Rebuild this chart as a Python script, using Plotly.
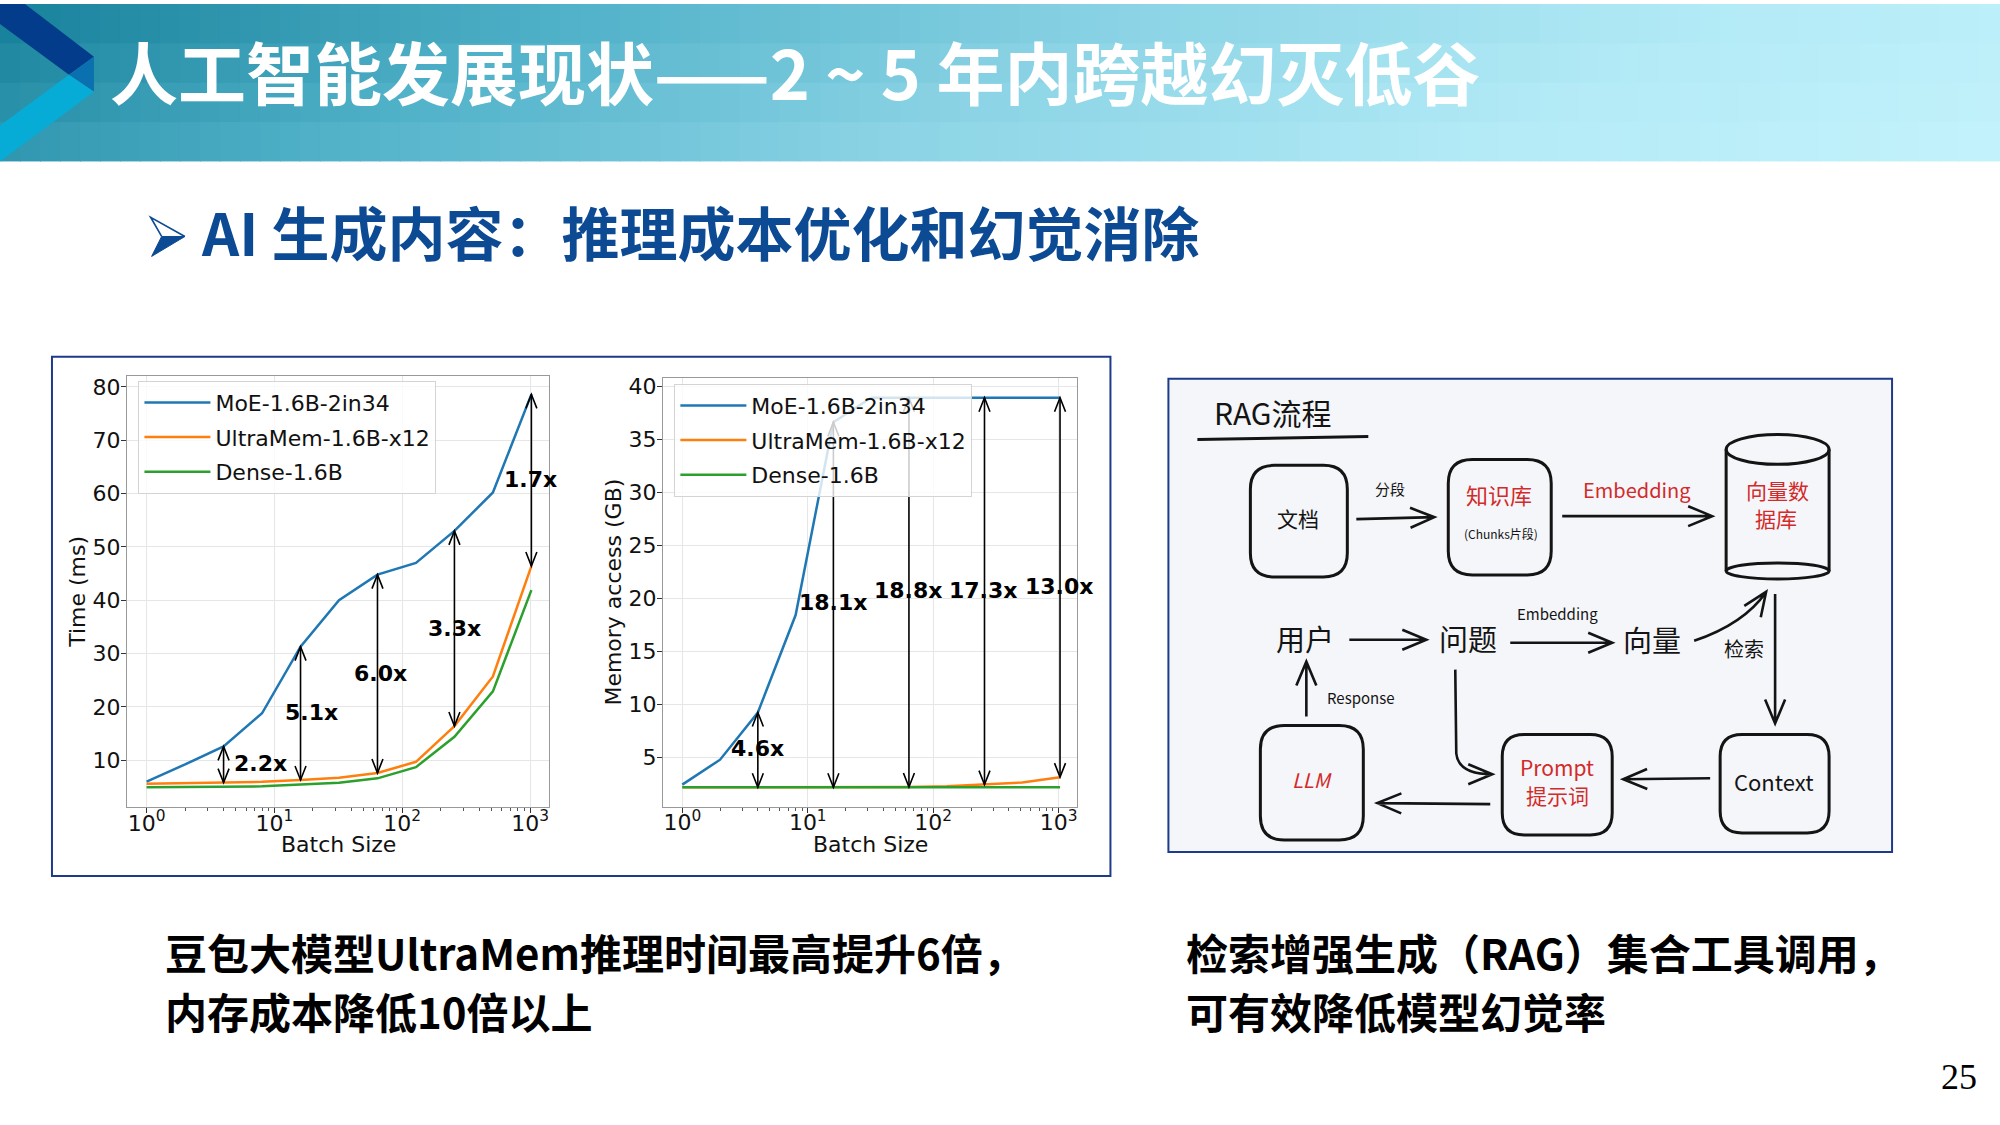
import math
import plotly.graph_objects as go

W, H = 2000, 1125


def X(p):
    return p / W


def Y(p):
    return 1 - p / H


# ------------------------------------------------------------------ data
batch_size = [1, 2, 4, 8, 16, 32, 64, 128, 256, 512, 1024]

time_moe = [6.0, 9.2, 12.6, 18.8, 31.3, 40.0, 44.8, 47.0, 53.0, 60.2, 78.6]
time_ultramem = [5.6, 5.7, 5.8, 5.95, 6.3, 6.7, 7.6, 9.7, 16.4, 25.7, 46.4]
time_dense = [4.95, 5.0, 5.05, 5.1, 5.45, 5.75, 6.6, 8.7, 14.4, 22.9, 41.9]

mem_moe = [2.4, 4.75, 9.2, 18.4, 36.6, 38.9, 38.9, 38.9, 38.9, 38.9, 38.9]
mem_ultramem = [2.15, 2.15, 2.15, 2.15, 2.15, 2.15, 2.17, 2.25, 2.4, 2.6, 3.1]
mem_dense = [2.15, 2.15, 2.15, 2.15, 2.15, 2.15, 2.15, 2.15, 2.15, 2.15, 2.15]

series_names = ["MoE-1.6B-2in34", "UltraMem-1.6B-x12", "Dense-1.6B"]
series_colors = ["#1f77b4", "#ff7f0e", "#2ca02c"]

time_arrow_batch = [4, 16, 64, 256, 1024]
time_arrow_top = [12.6, 31.3, 44.8, 53.0, 78.6]
time_arrow_bottom = [5.8, 6.3, 7.6, 16.4, 46.4]
time_ratio_labels = ["2.2x", "5.1x", "6.0x", "3.3x", "1.7x"]
time_label_x = [7.8, 19.5, 67, 255, 1012]
time_label_y = [9.4, 19.0, 26.3, 34.7, 62.7]

mem_arrow_batch = [4, 16, 64, 256, 1024]
mem_arrow_top = [9.2, 36.6, 38.9, 38.9, 38.9]
mem_arrow_bottom = [2.15, 2.15, 2.17, 2.4, 3.1]
mem_ratio_labels = ["4.6x", "18.1x", "18.8x", "17.3x", "13.0x"]
mem_label_x = [4, 16, 63, 251, 1012]
mem_label_y = [5.8, 19.6, 20.7, 20.7, 21.05]

x_tick_vals = [1, 10, 100, 1000]
x_tick_text = ["10<sup>0</sup>", "10<sup>1</sup>", "10<sup>2</sup>", "10<sup>3</sup>"]
time_ticks = [10, 20, 30, 40, 50, 60, 70, 80]
mem_ticks = [5, 10, 15, 20, 25, 30, 35, 40]

title_text = "人工智能发展现状——2 ~ 5 年内跨越幻灭低谷"
subtitle_text = "AI 生成内容：推理成本优化和幻觉消除"
left_caption = ["豆包大模型UltraMem推理时间最高提升6倍，", "内存成本降低10倍以上"]
right_caption = ["检索增强生成（RAG）集合工具调用，", "可有效降低模型幻觉率"]
page_number = "25"

# ------------------------------------------------------------------ figure
fig = go.Figure()
for name, color, ys in zip(series_names, series_colors, [time_moe, time_ultramem, time_dense]):
    fig.add_trace(go.Scatter(x=batch_size, y=ys, mode="lines", name=name,
                             line=dict(color=color, width=2.5),
                             xaxis="x", yaxis="y", legend="legend",
                             legendgroup="l" + name))
for name, color, ys in zip(series_names, series_colors, [mem_moe, mem_ultramem, mem_dense]):
    fig.add_trace(go.Scatter(x=batch_size, y=ys, mode="lines", name=name,
                             line=dict(color=color, width=2.5),
                             xaxis="x2", yaxis="y2", legend="legend2",
                             legendgroup="r" + name))

CH = "DejaVu Sans"
CJK = "Noto Sans CJK SC"
minor_vals = [m * 10 ** e for e in range(0, 3) for m in range(2, 10)]


def xaxis_cfg(domain, anchor):
    return dict(type="log", domain=domain, anchor=anchor, range=[-0.154, 3.146],
                tickmode="array", tickvals=x_tick_vals, ticktext=x_tick_text,
                ticks="outside", ticklen=5, tickwidth=1.2, tickcolor="#333",
                ticklabelstandoff=-9,
                minor=dict(ticks="outside", ticklen=3, tickwidth=1, tickcolor="#555",
                           tickvals=minor_vals, showgrid=False),
                showline=True, linecolor="#999", linewidth=1.2, mirror=True,
                showgrid=True, gridcolor="#e6e6e6", gridwidth=1, zeroline=False,
                tickfont=dict(family=CH, size=22, color="#111"))


def yaxis_cfg(domain, anchor, rng, ticks):
    return dict(domain=domain, anchor=anchor, range=rng,
                tickmode="array", tickvals=ticks,
                ticks="outside", ticklen=5, tickwidth=1.2, tickcolor="#333",
                ticklabelstandoff=-4,
                showline=True, linecolor="#999", linewidth=1.2, mirror=True,
                showgrid=True, gridcolor="#e6e6e6", gridwidth=1, zeroline=False,
                tickfont=dict(family=CH, size=22, color="#111"))


legend_common = dict(xanchor="left", yanchor="top", bgcolor="rgba(255,255,255,0.8)",
                     bordercolor="#d4d4d4", borderwidth=1,
                     font=dict(family=CH, size=22, color="#111"),
                     traceorder="grouped", tracegroupgap=3, itemwidth=66)

fig.update_layout(
    width=W, height=H, margin=dict(l=0, r=0, t=0, b=0),
    paper_bgcolor="white", plot_bgcolor="white", showlegend=True,
    xaxis=xaxis_cfg([X(127), X(549)], "y"),
    yaxis=yaxis_cfg([Y(806), Y(373)], "x", [1.2, 82.1], time_ticks),
    xaxis2=xaxis_cfg([X(663.3), X(1077.6)], "y2"),
    yaxis2=yaxis_cfg([Y(805.7), Y(375)], "x2", [0.3, 40.8], mem_ticks),
    legend=dict(x=X(138.5), y=Y(378), **legend_common),
    legend2=dict(x=X(674.7), y=Y(381), **legend_common),
)

ann = []
shapes = []

# double-headed arrows (shapes, drawn under the legends) and ratio labels
HL, HW = 14, 5.5
for xr, yr, bs, tops, bots, labs, lx, ly in [
    ("x", "y", time_arrow_batch, time_arrow_top, time_arrow_bottom, time_ratio_labels, time_label_x, time_label_y),
    ("x2", "y2", mem_arrow_batch, mem_arrow_top, mem_arrow_bottom, mem_ratio_labels, mem_label_x, mem_label_y),
]:
    for b, t, bo in zip(bs, tops, bots):
        shapes.append(dict(type="line", xref=xr, yref=yr, x0=b, x1=b, y0=bo, y1=t,
                           line=dict(color="black", width=1.6)))
        shapes.append(dict(type="path", xref=xr, yref=yr, xsizemode="pixel", ysizemode="pixel",
                           xanchor=b, yanchor=t,
                           path="M%f,%f L0,0 L%f,%f" % (-HW, -HL, HW, -HL),
                           line=dict(color="black", width=1.6)))
        shapes.append(dict(type="path", xref=xr, yref=yr, xsizemode="pixel", ysizemode="pixel",
                           xanchor=b, yanchor=bo,
                           path="M%f,%f L0,0 L%f,%f" % (-HW, HL, HW, HL),
                           line=dict(color="black", width=1.6)))
    for t, x, y in zip(labs, lx, ly):
        ann.append(dict(x=math.log10(x), y=y, xref=xr, yref=yr, text="<b>" + t + "</b>",
                        showarrow=False, xanchor="center", yanchor="middle",
                        font=dict(family=CH, size=22, color="black")))

# axis titles
axis_titles = [
    (78, 590, "Time (ms)", -90), (614, 590, "Memory access (GB)", -90),
    (338.5, 844, "Batch Size", 0), (871, 844, "Batch Size", 0),
]
for x, y, t, ang in axis_titles:
    ann.append(dict(x=X(x), y=Y(y), xref="paper", yref="paper", text=t, textangle=ang,
                    showarrow=False, xanchor="center", yanchor="middle",
                    font=dict(family=CH, size=22, color="#111")))

# ------------------------------------------------------------------ header banner
stops = [(0.0, (20, 126, 152)), (0.25, (78, 176, 199)), (0.5, (138, 211, 229)),
         (0.75, (178, 234, 246)), (1.0, (196, 243, 252))]


def grad(t):
    t = max(0.0, min(1.0, t))
    for (t0, c0), (t1, c1) in zip(stops[:-1], stops[1:]):
        if t <= t1:
            f = (t - t0) / (t1 - t0)
            return "rgb(%d,%d,%d)" % tuple(round(a + (b - a) * f) for a, b in zip(c0, c1))
    return "rgb(%d,%d,%d)" % stops[-1][1]


ncol, nrow, bh = 100, 4, 158
for i in range(ncol):
    for j in range(nrow):
        x0, x1 = i * W / ncol, (i + 1) * W / ncol
        y0, y1 = j * bh / nrow, (j + 1) * bh / nrow
        t = ((x0 + x1) / 2 + 2 * (y0 + y1) / 2) / (W + 2 * bh)
        shapes.append(dict(type="rect", xref="paper", yref="paper", layer="below",
                           x0=X(x0), x1=X(x1 + 1), y0=Y(y0), y1=Y(min(y1 + 1, bh)),
                           fillcolor=grad(t), line=dict(width=0)))


def poly(pts):
    return "M" + " L".join("%f,%f" % (X(a), Y(b)) for a, b in pts) + " Z"


shapes += [
    dict(type="path", xref="paper", yref="paper", layer="below",
         path=poly([(0, 0), (25, 0), (94, 53), (69, 71), (0, 20)]),
         fillcolor="#033c8b", line=dict(width=0)),
    dict(type="path", xref="paper", yref="paper", layer="below",
         path=poly([(69, 71), (94, 53), (94, 88)]),
         fillcolor="#0a70b0", line=dict(width=0)),
    dict(type="path", xref="paper", yref="paper", layer="below",
         path=poly([(0, 122), (69, 71), (94, 88), (0, 158)]),
         fillcolor="#06acd5", line=dict(width=0)),
]

ann.append(dict(x=X(108), y=Y(67), xref="paper", yref="paper", text="<b>" + title_text + "</b>",
                showarrow=False, xanchor="left", yanchor="middle",
                font=dict(family=CJK, size=68, color="white")))

# subtitle with arrow bullet
BLUE = "#0c4a94"
shapes += [
    dict(type="path", xref="paper", yref="paper",
         path=poly([(161.7, 233.3), (185, 233.3), (151.7, 253.3)]),
         fillcolor=BLUE, line=dict(color=BLUE, width=1)),
    dict(type="path", xref="paper", yref="paper",
         path="M%f,%f L%f,%f L%f,%f" % (X(161.7), Y(233.3), X(150.7), Y(214), X(185), Y(233.3)),
         line=dict(color=BLUE, width=1.6)),
]
ann.append(dict(x=X(199), y=Y(228), xref="paper", yref="paper", text="<b>" + subtitle_text + "</b>",
                showarrow=False, xanchor="left", yanchor="middle",
                font=dict(family=CJK, size=58, color=BLUE)))

# chart frame
shapes.append(dict(type="rect", xref="paper", yref="paper", layer="below",
                   x0=X(52), x1=X(1111), y0=Y(354), y1=Y(875),
                   line=dict(color="#1e3a8a", width=2), fillcolor="rgba(0,0,0,0)"))

# captions
for lines, x0 in [(left_caption, 163), (right_caption, 1185)]:
    for txt, yy in zip(lines, [951, 1010]):
        ann.append(dict(x=X(x0), y=Y(yy), xref="paper", yref="paper", text="<b>" + txt + "</b>",
                        showarrow=False, xanchor="left", yanchor="middle",
                        font=dict(family=CJK, size=42, color="black")))
ann.append(dict(x=X(1960), y=Y(1077), xref="paper", yref="paper", text=page_number,
                showarrow=False, xanchor="center", yanchor="middle",
                font=dict(family="Liberation Serif", size=36, color="black")))

# ------------------------------------------------------------------ RAG diagram
INK = "#141414"
RED = "#d32a2a"
shapes.append(dict(type="rect", xref="paper", yref="paper", layer="below",
                   x0=X(1169), x1=X(1893), y0=Y(376), y1=Y(851),
                   line=dict(color="#1e3a8a", width=2), fillcolor="#f4f6f9"))


def rrect(x0, y0, x1, y1, r):
    p = ("M{a},{b} L{c},{b} Q{d},{b} {d},{e} L{d},{f} Q{d},{g} {c},{g} L{a},{g} "
         "Q{h},{g} {h},{f} L{h},{e} Q{h},{b} {a},{b} Z").format(
        a=X(x0 + r), b=Y(y0), c=X(x1 - r), d=X(x1), e=Y(y0 + r), f=Y(y1 - r), g=Y(y1), h=X(x0))
    return dict(type="path", xref="paper", yref="paper", path=p,
                line=dict(color=INK, width=3), fillcolor="rgba(0,0,0,0)")


for bx in [(1251, 463, 1348, 575, 24), (1449, 457, 1552, 573, 24), (1721, 733, 1830, 832, 22),
           (1503, 733, 1613, 834, 22), (1261, 724, 1364, 839, 24)]:
    shapes.append(rrect(*bx))

# cylinder (vector database)
shapes += [
    dict(type="circle", xref="paper", yref="paper", x0=X(1727), x1=X(1830), y0=Y(432), y1=Y(462),
         line=dict(color=INK, width=3)),
    dict(type="circle", xref="paper", yref="paper", x0=X(1727), x1=X(1830), y0=Y(561), y1=Y(577),
         line=dict(color=INK, width=3)),
    dict(type="line", xref="paper", yref="paper", x0=X(1727), x1=X(1727), y0=Y(447), y1=Y(569),
         line=dict(color=INK, width=3)),
    dict(type="line", xref="paper", yref="paper", x0=X(1830), x1=X(1830), y0=Y(447), y1=Y(569),
         line=dict(color=INK, width=3)),
]
# title underline
shapes.append(dict(type="line", xref="paper", yref="paper", x0=X(1198), x1=X(1369),
                   y0=Y(437), y1=Y(434), line=dict(color=INK, width=3)))


def head(xe, ye, dx, dy, L=24, hw=10):
    n = math.hypot(dx, dy)
    ux, uy = dx / n, dy / n
    bx, by = xe - ux * L, ye - uy * L
    px_, py_ = -uy * hw, ux * hw
    return " M%f,%f L%f,%f L%f,%f" % (X(bx + px_), Y(by + py_), X(xe), Y(ye), X(bx - px_), Y(by - py_))


def straight_arrow(x0, y0, x1, y1):
    p = "M%f,%f L%f,%f" % (X(x0), Y(y0), X(x1), Y(y1)) + head(x1, y1, x1 - x0, y1 - y0)
    return dict(type="path", xref="paper", yref="paper", path=p, line=dict(color=INK, width=2.6))


for a in [(1357, 517, 1435, 515), (1563, 514, 1713, 514), (1350, 638, 1427, 638),
          (1511, 641, 1613, 641), (1776, 592, 1776, 722), (1711, 777, 1624, 778),
          (1491, 803, 1378, 802), (1307, 715, 1307, 660)]:
    shapes.append(straight_arrow(*a))

# curved arrows
p = "M%f,%f Q%f,%f %f,%f" % (X(1695), Y(639), X(1745), Y(622), X(1767), Y(590)) + head(1767, 590, 22, -32)
shapes.append(dict(type="path", xref="paper", yref="paper", path=p, line=dict(color=INK, width=2.6)))
p = ("M%f,%f L%f,%f Q%f,%f %f,%f" % (X(1456), Y(668), X(1457), Y(752), X(1459), Y(773), X(1493), Y(773))
     + head(1493, 773, 34, 0))
shapes.append(dict(type="path", xref="paper", yref="paper", path=p, line=dict(color=INK, width=2.6)))


def label(x, y, txt, size, color=INK, anchor="center"):
    ann.append(dict(x=X(x), y=Y(y), xref="paper", yref="paper", text=txt, showarrow=False,
                    xanchor=anchor, yanchor="middle", font=dict(family=CJK, size=size, color=color)))


label(1213, 409, "RAG流程", 30, anchor="left")
label(1299, 516, "文档", 21)
label(1391, 486, "分段", 15)
label(1500, 492, "知识库", 22, RED)
label(1502, 531, "(Chunks片段)", 12)
label(1638, 487, "Embedding", 20, RED)
label(1778, 488, "向量数", 21, RED)
label(1777, 516, "据库", 21, RED)
label(1306, 636, "用户", 29)
label(1469, 636, "问题", 29)
label(1653, 637, "向量", 29)
label(1558, 612, "Embedding", 15)
label(1745, 647, "检索", 20)
label(1774, 780, "Context", 22)
label(1558, 766, "Prompt", 21, RED)
label(1558, 794, "提示词", 21, RED)
label(1313, 778, "<i>LLM</i>", 20, RED)
label(1362, 696, "Response", 15)

fig.update_layout(annotations=ann, shapes=shapes)

fig.write_html("out.html", config={"displayModeBar": False},
               post_script="document.body.style.margin='0px';document.body.style.overflow='hidden';")
